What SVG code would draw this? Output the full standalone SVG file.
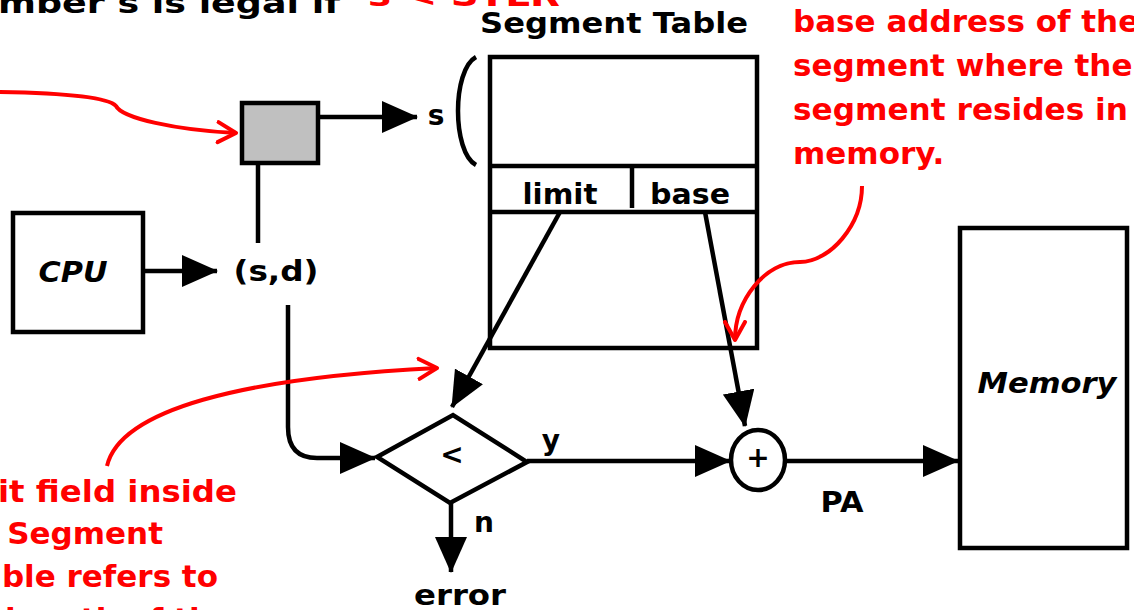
<svg xmlns="http://www.w3.org/2000/svg" width="1134" height="610" viewBox="0 0 1134 610">
<style>
text { font-family: 'Comic Sans MS', 'DejaVu Sans', sans-serif; font-weight: bold; }
.lbl { fill: #000; font-size: 28px; }
.red { fill: #ff0000; font-size: 31px; }
.box { fill: #fff; stroke: #000; stroke-width: 4.5; }
.ln { fill: none; stroke: #000; stroke-width: 4.5; }
.arr { fill: none; stroke: #000; stroke-width: 4.5; marker-end: url(#ah); }
.rarr { fill: none; stroke: #ff0000; stroke-width: 4; marker-end: url(#rh); }
</style>
<defs>
<marker id="ah" markerUnits="userSpaceOnUse" markerWidth="36" markerHeight="32" refX="35" refY="16" orient="auto" viewBox="0 0 36 32">
<path d="M0,0 L36,16 L0,32 Z" fill="#000"/>
</marker>
<marker id="rh" markerUnits="userSpaceOnUse" markerWidth="24" markerHeight="26" refX="20" refY="13" orient="auto" viewBox="0 0 24 26">
<path d="M2,3 L20,13 L2,23" fill="none" stroke="#ff0000" stroke-width="4" stroke-linecap="round" stroke-linejoin="round"/>
</marker>
</defs>

<g id="title-text">
<text class="lbl" x="-2" y="13" font-size="32" textLength="342" lengthAdjust="spacingAndGlyphs">mber s is legal if</text>
<text class="red" x="368" y="6" textLength="192" lengthAdjust="spacingAndGlyphs">s &lt; STLR</text>
</g>

<g id="segment-table">
<text class="lbl" x="614" y="33" text-anchor="middle" textLength="268" lengthAdjust="spacingAndGlyphs">Segment Table</text>
<rect class="box" x="490" y="57" width="267" height="291"/>
<line class="ln" x1="490" y1="166" x2="757" y2="166"/>
<line class="ln" x1="490" y1="212" x2="757" y2="212"/>
<line class="ln" x1="632" y1="166" x2="632" y2="208"/>
<text class="lbl" x="560" y="204" text-anchor="middle" textLength="75" lengthAdjust="spacingAndGlyphs">limit</text>
<text class="lbl" x="690" y="204" text-anchor="middle" textLength="80" lengthAdjust="spacingAndGlyphs">base</text>
<path class="ln" d="M476,57 C452,70 452,152 476,165"/>
<text class="lbl" x="436" y="125" text-anchor="middle">s</text>
</g>

<g id="register">
<rect x="242" y="103" width="76" height="60" fill="#c0c0c0" stroke="#000" stroke-width="4.5"/>
</g>

<g id="cpu">
<rect class="box" x="13" y="213" width="130" height="119"/>
<text class="lbl" x="73" y="282" text-anchor="middle" font-style="italic" textLength="69" lengthAdjust="spacingAndGlyphs">CPU</text>
</g>

<g id="address">
<text class="lbl" x="276" y="281" text-anchor="middle" textLength="85" lengthAdjust="spacingAndGlyphs">(s,d)</text>
</g>

<g id="compare">
<polygon points="377,457 453,415 527,462 450,503" fill="#fff" stroke="#000" stroke-width="4.5" stroke-linejoin="miter"/>
<text class="lbl" x="452" y="464" text-anchor="middle" font-size="20">&lt;</text>
</g>

<g id="adder">
<ellipse cx="758" cy="460" rx="27" ry="30" fill="#fff" stroke="#000" stroke-width="4.5"/>
<text class="lbl" x="758" y="467" text-anchor="middle" font-size="20">+</text>
</g>

<g id="memory">
<rect class="box" x="960" y="228" width="167" height="320"/>
<text class="lbl" x="1047" y="393" text-anchor="middle" font-style="italic" textLength="139" lengthAdjust="spacingAndGlyphs">Memory</text>
</g>

<g id="error">
<text class="lbl" x="460" y="605" text-anchor="middle" textLength="92" lengthAdjust="spacingAndGlyphs">error</text>
</g>

<g id="connectors">
<line class="arr" x1="318" y1="117" x2="417" y2="117"/>
<line class="ln" x1="258" y1="163" x2="258" y2="243"/>
<line class="arr" x1="143" y1="271" x2="217" y2="271"/>
<path class="arr" d="M288,305 V427 Q288,458 317,458 H375"/>
<line class="arr" x1="560" y1="212" x2="452" y2="407"/>
<line class="arr" x1="705" y1="212" x2="745" y2="426"/>
<line class="arr" x1="527" y1="461" x2="730" y2="461"/>
<line class="arr" x1="785" y1="461" x2="958" y2="461"/>
<line class="arr" x1="451" y1="503" x2="451" y2="572"/>
<text class="lbl" x="551" y="450" text-anchor="middle">y</text>
<text class="lbl" x="484" y="532" text-anchor="middle">n</text>
<text class="lbl" x="842" y="512" text-anchor="middle" textLength="43" lengthAdjust="spacingAndGlyphs">PA</text>
</g>

<g id="annotations">
<path class="rarr" d="M0,92 C60,93 108,97 116,106 C122,118 175,130 236,133"/>
<path class="rarr" d="M862,186 C862,225 830,262 800,262 C765,262 735,300 735,340"/>
<path class="rarr" d="M107,466 C120,410 240,378 437,368"/>
<text class="red" x="793" y="32">base address of the</text>
<text class="red" x="793" y="76">segment where the</text>
<text class="red" x="793" y="120" textLength="335" lengthAdjust="spacingAndGlyphs">segment resides in</text>
<text class="red" x="793" y="164">memory.</text>
<text class="red" x="-2" y="502" textLength="239" lengthAdjust="spacingAndGlyphs">it field inside</text>
<text class="red" x="163" y="544" text-anchor="end">Segment</text>
<text class="red" x="218" y="587" text-anchor="end">Table refers to</text>
<text class="red" x="232" y="630" text-anchor="end">the length of the</text>
</g>
</svg>
